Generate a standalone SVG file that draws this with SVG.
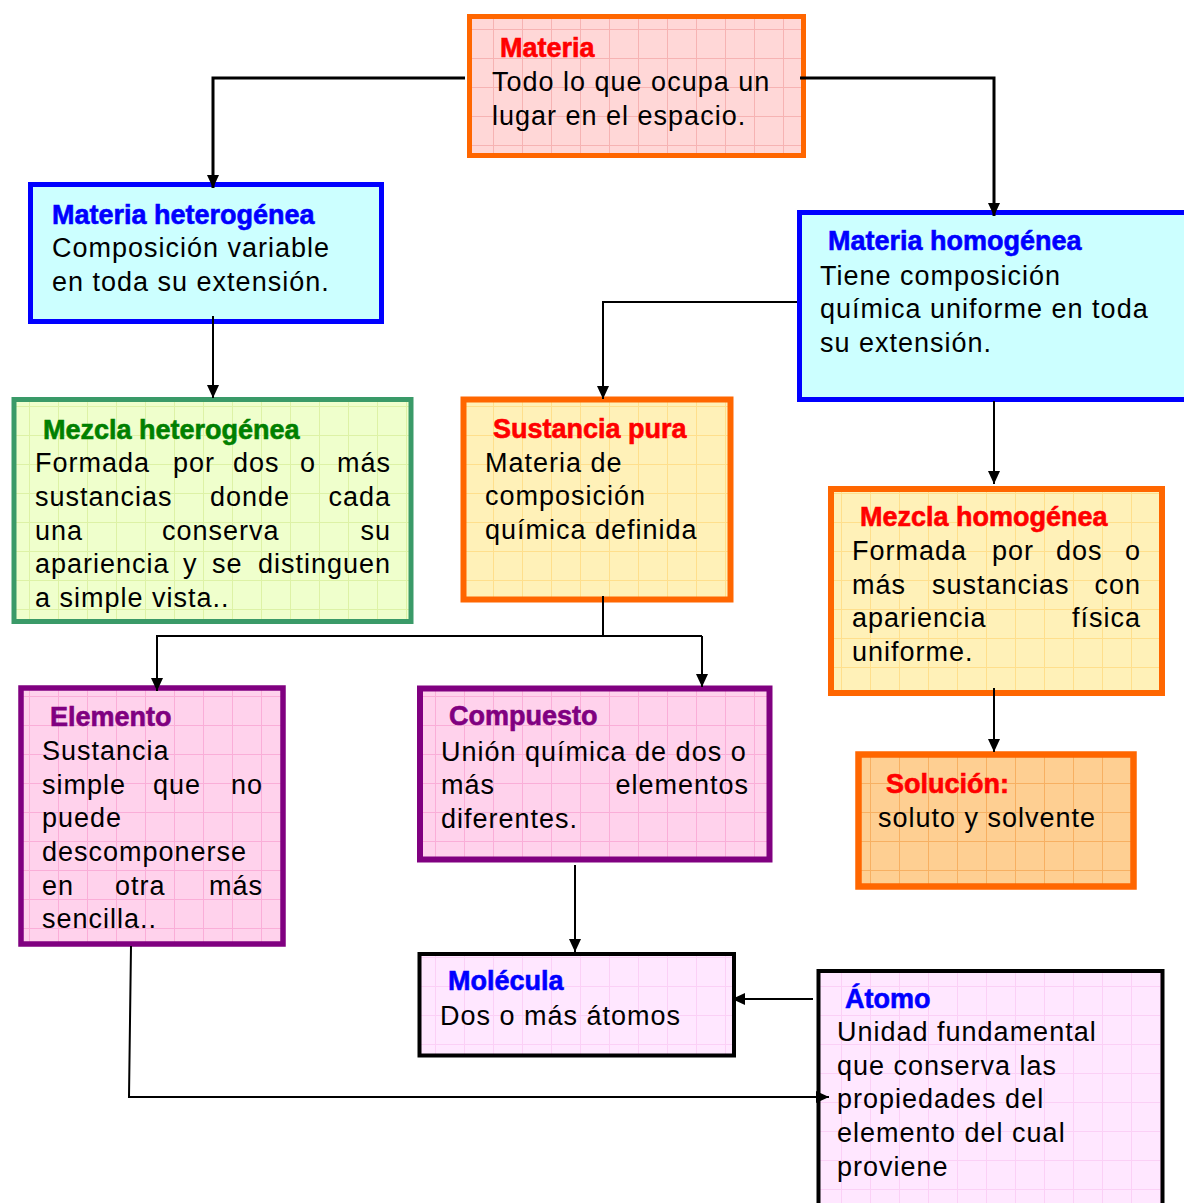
<svg xmlns="http://www.w3.org/2000/svg" width="1184" height="1203" viewBox="0 0 1184 1203">
<style>
.t{font-family:"Liberation Sans",Arial,sans-serif;font-weight:bold;font-size:27px;stroke-width:0.6}
.b{font-family:"Liberation Sans",Arial,sans-serif;font-size:27px;letter-spacing:1px;fill:#000}
.e{text-anchor:end}
.red{fill:#FF0000;stroke:#FF0000}
.blue{fill:#0000FF;stroke:#0000FF}
.green{fill:#008000;stroke:#008000}
.purple{fill:#800080;stroke:#800080}
.conn path{fill:none;stroke:#000;stroke-width:2}
.conn path.thick{stroke-width:3}
</style>
<defs>
<marker id="arr" viewBox="0 0 13 12" markerWidth="13" markerHeight="12" refX="13" refY="6" markerUnits="userSpaceOnUse" orient="auto">
<path d="M0,0 L13,6 L0,12 z" fill="#000"/>
</marker>
<pattern id="gRose" width="29" height="29" patternUnits="userSpaceOnUse"><rect width="29" height="29" fill="#FFD7D7"/><path d="M0 0.5H29M0.5 0V29" stroke="#F6B3B3" stroke-width="1"/></pattern>
<pattern id="gGreen" width="29" height="29" patternUnits="userSpaceOnUse"><rect width="29" height="29" fill="#EFFFCC"/><path d="M0 0.5H29M0.5 0V29" stroke="#DDF2A6" stroke-width="1"/></pattern>
<pattern id="gYellow" width="29" height="29" patternUnits="userSpaceOnUse"><rect width="29" height="29" fill="#FFF1B8"/><path d="M0 0.5H29M0.5 0V29" stroke="#FFDF8C" stroke-width="1"/></pattern>
<pattern id="gPink" width="29" height="29" patternUnits="userSpaceOnUse"><rect width="29" height="29" fill="#FFD2EC"/><path d="M0 0.5H29M0.5 0V29" stroke="#FAAED8" stroke-width="1"/></pattern>
<pattern id="gOrange" width="29" height="29" patternUnits="userSpaceOnUse"><rect width="29" height="29" fill="#FECF92"/><path d="M0 0.5H29M0.5 0V29" stroke="#F7B062" stroke-width="1"/></pattern>
<pattern id="gLilac" width="29" height="29" patternUnits="userSpaceOnUse"><rect width="29" height="29" fill="#FFE7FF"/><path d="M0 0.5H29M0.5 0V29" stroke="#FBD0F6" stroke-width="1"/></pattern>
</defs>
<rect width="1184" height="1203" fill="#FFFFFF"/>

<g id="materia">
<rect x="469.5" y="16.5" width="334" height="139" fill="url(#gRose)" stroke="#FF6600" stroke-width="5"/>
<text class="t red" x="500" y="57">Materia</text>
<text class="b" x="492" y="91">Todo lo que ocupa un</text>
<text class="b" x="492" y="125">lugar en el espacio.</text>
</g>

<g id="materia-heterogenea">
<rect x="30.5" y="184.5" width="351" height="137" fill="#CCFFFF" stroke="#0000FF" stroke-width="5"/>
<text class="t blue" x="52" y="224">Materia heterogénea</text>
<text class="b" x="52" y="257">Composición variable</text>
<text class="b" x="52" y="291">en toda su extensión.</text>
</g>

<g id="materia-homogenea">
<rect x="799.5" y="212.5" width="400" height="187" fill="#CCFFFF" stroke="#0000FF" stroke-width="5"/>
<text class="t blue" x="828" y="250">Materia homogénea</text>
<text class="b" x="820" y="285">Tiene composición</text>
<text class="b" x="820" y="318">química uniforme en toda</text>
<text class="b" x="820" y="352">su extensión.</text>
</g>

<g id="mezcla-heterogenea">
<rect x="14" y="399.5" width="397" height="222" fill="url(#gGreen)" stroke="#3A9A68" stroke-width="5"/>
<text class="t green" x="43" y="439">Mezcla heterogénea</text>
<text class="b" x="35" y="472">Formada</text>
<text class="b" x="173" y="472">por</text>
<text class="b" x="233" y="472">dos</text>
<text class="b" x="300" y="472">o</text>
<text class="b e" x="391" y="472">más</text>
<text class="b" x="35" y="506">sustancias</text>
<text class="b" x="210" y="506">donde</text>
<text class="b e" x="391" y="506">cada</text>
<text class="b" x="35" y="540">una</text>
<text class="b" x="162" y="540">conserva</text>
<text class="b e" x="391" y="540">su</text>
<text class="b" x="35" y="573">apariencia</text>
<text class="b" x="183" y="573">y</text>
<text class="b" x="212" y="573">se</text>
<text class="b e" x="391" y="573">distinguen</text>
<text class="b" x="35" y="607">a simple vista..</text>
</g>

<g id="sustancia-pura">
<rect x="463.5" y="399.5" width="267" height="200" fill="url(#gYellow)" stroke="#FF6600" stroke-width="6"/>
<text class="t red" x="493" y="438">Sustancia pura</text>
<text class="b" x="485" y="472">Materia de</text>
<text class="b" x="485" y="505">composición</text>
<text class="b" x="485" y="539">química definida</text>
</g>

<g id="mezcla-homogenea">
<rect x="831" y="489" width="331" height="204" fill="url(#gYellow)" stroke="#FF6600" stroke-width="6"/>
<text class="t red" x="860" y="526">Mezcla homogénea</text>
<text class="b" x="852" y="560">Formada</text>
<text class="b" x="992" y="560">por</text>
<text class="b" x="1056" y="560">dos</text>
<text class="b e" x="1141" y="560">o</text>
<text class="b" x="852" y="594">más</text>
<text class="b" x="932" y="594">sustancias</text>
<text class="b e" x="1141" y="594">con</text>
<text class="b" x="852" y="627">apariencia</text>
<text class="b e" x="1141" y="627">física</text>
<text class="b" x="852" y="661">uniforme.</text>
</g>

<g id="elemento">
<rect x="21" y="688" width="262" height="256" fill="url(#gPink)" stroke="#800080" stroke-width="5.5"/>
<text class="t purple" x="50" y="726">Elemento</text>
<text class="b" x="42" y="760">Sustancia</text>
<text class="b" x="42" y="794">simple</text>
<text class="b" x="153" y="794">que</text>
<text class="b e" x="263" y="794">no</text>
<text class="b" x="42" y="827">puede</text>
<text class="b" x="42" y="861">descomponerse</text>
<text class="b" x="42" y="895">en</text>
<text class="b" x="115" y="895">otra</text>
<text class="b e" x="263" y="895">más</text>
<text class="b" x="42" y="928">sencilla..</text>
</g>

<g id="compuesto">
<rect x="420" y="688.5" width="349.5" height="171" fill="url(#gPink)" stroke="#800080" stroke-width="6"/>
<text class="t purple" x="449" y="725">Compuesto</text>
<text class="b" x="441" y="761">Unión química de dos o</text>
<text class="b" x="441" y="794">más</text>
<text class="b e" x="749" y="794">elementos</text>
<text class="b" x="441" y="828">diferentes.</text>
</g>

<g id="solucion">
<rect x="858.5" y="754.5" width="275" height="132" fill="url(#gOrange)" stroke="#FF6600" stroke-width="6.5"/>
<text class="t red" x="886" y="793">Solución:</text>
<text class="b" x="878" y="827">soluto y solvente</text>
</g>

<g id="molecula">
<rect x="419.5" y="954" width="314.5" height="101.5" fill="url(#gLilac)" stroke="#000000" stroke-width="4"/>
<text class="t blue" x="448" y="990">Molécula</text>
<text class="b" x="440" y="1025">Dos o más átomos</text>
</g>

<g id="atomo">
<rect x="818.5" y="971" width="344" height="250" fill="url(#gLilac)" stroke="#000000" stroke-width="4"/>
<text class="t blue" x="845" y="1008">Átomo</text>
<text class="b" x="837" y="1041">Unidad fundamental</text>
<text class="b" x="837" y="1075">que conserva las</text>
<text class="b" x="837" y="1108">propiedades del</text>
<text class="b" x="837" y="1142">elemento del cual</text>
<text class="b" x="837" y="1176">proviene</text>
</g>

<g class="conn">
<path class="thick" d="M465,78 H213 V188" marker-end="url(#arr)"/>
<path class="thick" d="M800,78 H994 V216" marker-end="url(#arr)"/>
<path d="M213,316 V398" marker-end="url(#arr)"/>
<path d="M797,302 H603 V399" marker-end="url(#arr)"/>
<path d="M994,401 V484" marker-end="url(#arr)"/>
<path d="M603,596 V636"/>
<path d="M702,636 H157 V691" marker-end="url(#arr)"/>
<path d="M702,636 V687" marker-end="url(#arr)"/>
<path d="M994,688 V752" marker-end="url(#arr)"/>
<path d="M575,865 V952" marker-end="url(#arr)"/>
<path d="M813,999 H732" marker-end="url(#arr)"/>
<path d="M131,946 L129,1097 H829" marker-end="url(#arr)"/>
</g>
</svg>
